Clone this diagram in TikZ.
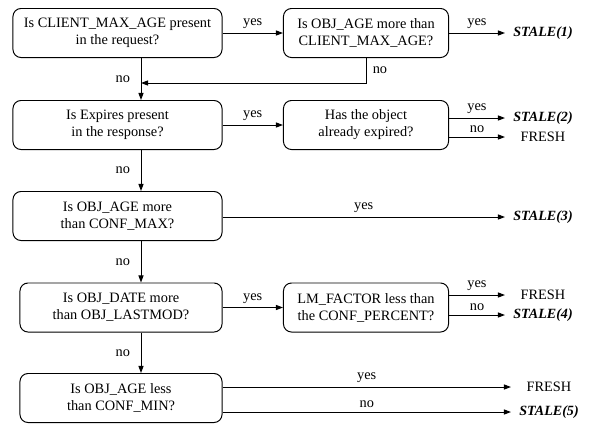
\documentclass[tikz,border=0pt]{standalone}
\usepackage{fontspec}
\setmainfont{Liberation Serif}
\usetikzlibrary{arrows.meta,positioning,calc}
\tikzset{
  test/.style={draw=black, line width=0.7pt, rounded corners=2mm, align=center, minimum width=5.225cm, minimum height=1.225cm, inner sep=1pt},
  testnarrow/.style={test, minimum width=5.05cm},
  subtest/.style={test, minimum width=4.125cm},
  fresh/.style={minimum width=1.9cm, inner sep=0pt, outer sep=0pt},
  stale/.style={fresh, font=\bfseries\itshape},
  arrow/.style={-{Triangle[length=5pt,width=3.6pt]}, line width=0.7pt},
  lbl/.style={inner sep=2.5pt}
}

\begin{document}
\begin{tikzpicture}[x=0.025cm, y=-0.025cm, font=\fontsize{10.2pt}{12.1pt}\selectfont]
  \useasboundingbox (0,0) rectangle (592,423);
  \coordinate (spine) at (141,0);
  \coordinate (merge) at (141,83);
  % questions, left column
  \node[test] (maxage) at (117.5,33) {Is CLIENT\_MAX\_AGE present\\in the request?};
  \node[test] (expires) at (117.5,125) {Is Expires present\\in the response?};
  \node[test] (confmax) at (117.5,216) {Is OBJ\_AGE more\\than CONF\_MAX?};
  \node[testnarrow] (lastmod) at (121,307.5) {Is OBJ\_DATE more\\than OBJ\_LASTMOD?};
  \node[testnarrow] (confmin) at (121,398) {Is OBJ\_AGE less\\than CONF\_MIN?};
  % second column
  \node[subtest] (agecheck) at (366,33) {Is OBJ\_AGE more than\\CLIENT\_MAX\_AGE?};
  \node[subtest] (expired) at (366,125) {Has the object\\already expired?};
  \node[subtest] (lmfactor) at (366,307.5) {LM\_FACTOR less than\\the CONF\_PERCENT?};
  % results
  \node[stale] (stale1) at (543,33) {STALE(1)};
  \node[stale] (stale2) at (543,118) {STALE(2)};
  \node[fresh] (fresh2) at (543,137) {FRESH};
  \node[stale] (stale3) at (543,217) {STALE(3)};
  \node[fresh] (fresh4) at (543,295) {FRESH};
  \node[stale] (stale4) at (543,315) {STALE(4)};
  \node[fresh] (fresh5) at (549,387) {FRESH};
  \node[stale] (stale5) at (549,412) {STALE(5)};

  \draw[arrow] (maxage) -- node[lbl,above] {yes} (agecheck);
  \draw[arrow] (agecheck) -- node[lbl,above] {yes} (stale1);
  \draw[arrow] (agecheck.south) |- node[lbl,pos=0.25,right=2pt] {no} (merge);
  \draw[arrow] (maxage.south -| spine) -- node[lbl,left=5pt] {no} (expires.north -| spine);
  \draw[arrow] (expires) -- node[lbl,above] {yes} (expired);
  \draw[arrow] (expired.east |- stale2) -- node[lbl,above] {yes} (stale2);
  \draw[arrow] (expired.east |- fresh2) -- node[lbl,above] {no} (fresh2);
  \draw[arrow] (expires.south -| spine) -- node[lbl,left=5pt] {no} (confmax.north -| spine);
  \draw[arrow] (confmax.east |- stale3) -- node[lbl,above] {yes} (stale3);
  \draw[arrow] (confmax.south -| spine) -- node[lbl,left=5pt] {no} (lastmod.north -| spine);
  \draw[arrow] (lastmod) -- node[lbl,above] {yes} (lmfactor);
  \draw[arrow] (lmfactor.east |- fresh4) -- node[lbl,above] {yes} (fresh4);
  \draw[arrow] (lmfactor.east |- stale4) -- node[lbl,above] {no} (stale4);
  \draw[arrow] (lastmod.south -| spine) -- node[lbl,left=5pt] {no} (confmin.north -| spine);
  \draw[arrow] (confmin.east |- fresh5) -- node[lbl,above] {yes} (fresh5);
  \draw[arrow] (confmin.east |- stale5) -- node[lbl,above] {no} (stale5);
\end{tikzpicture}
\end{document}
